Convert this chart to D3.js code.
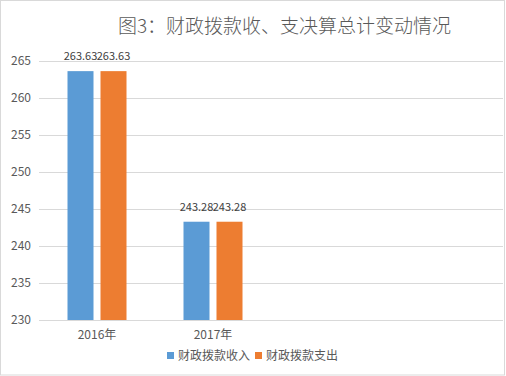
<!DOCTYPE html>
<html>
<head>
<meta charset="utf-8">
<script src="https://cdn.jsdelivr.net/npm/d3@7"></script>
<style>
  body { margin: 0; background: #fff; }
  svg { display: block; }
  text { font-family: "Noto Sans CJK SC", "Noto Sans", sans-serif; fill: #595959; }
</style>
</head>
<body>
<script>
// chart data
const categories = ["2016年", "2017年", "", ""];
const income = [263.63, 243.28, null, null];
const spending = [263.63, 243.28, null, null];
const seriesNames = ["财政拨款收入", "财政拨款支出"];
const colors = ["#5b9bd5", "#ed7d31"];
const yTicks = [230, 235, 240, 245, 250, 255, 260, 265];

const width = 506, height = 376;
const margin = {top: 61, right: 3, bottom: 56, left: 39};

const svg = d3.select("body").append("svg")
    .attr("width", width)
    .attr("height", height);

// outer frame
svg.append("rect")
    .attr("x", 0.5).attr("y", 0.5)
    .attr("width", width - 2).attr("height", height - 1.5)
    .attr("fill", "none")
    .attr("stroke", "#d9d9d9");

svg.append("text")
    .attr("x", 284.5).attr("y", 33)
    .attr("text-anchor", "middle")
    .style("font-size", "19px")
    .style("font-weight", 300)
    .text("图3：财政拨款收、支决算总计变动情况");

const x = d3.scaleBand()
    .domain(categories.map((c, i) => i))
    .range([margin.left, width - margin.right]);

const y = d3.scaleLinear()
    .domain([230, 265])
    .range([height - margin.bottom, margin.top]);

// gridlines
svg.append("g")
    .selectAll("line")
    .data(yTicks)
    .enter().append("line")
    .attr("x1", margin.left)
    .attr("x2", width - margin.right)
    .attr("y1", d => Math.round(y(d)) + 0.5)
    .attr("y2", d => Math.round(y(d)) + 0.5)
    .attr("stroke", "#d9d9d9");

svg.append("g")
    .selectAll("text")
    .data(yTicks)
    .enter().append("text")
    .attr("x", 31)
    .attr("y", d => y(d) + 4)
    .attr("text-anchor", "end")
    .style("font-size", "12px")
    .text(d => d);

const series = [income, spending];
const barW = 26, gap = 7;

series.forEach((vals, s) => {
    const pts = vals.map((v, i) => ({v, i})).filter(d => d.v != null);
    const bx = d => x(d.i) + x.bandwidth() / 2 - (barW * 2 + gap) / 2 + s * (barW + gap);

    svg.append("g")
        .selectAll("rect")
        .data(pts)
        .enter().append("rect")
        .attr("x", bx)
        .attr("y", d => y(d.v))
        .attr("width", barW)
        .attr("height", d => y(230) - y(d.v))
        .attr("fill", colors[s]);

    svg.append("g")
        .selectAll("text")
        .data(pts)
        .enter().append("text")
        .attr("x", d => bx(d) + barW / 2)
        .attr("y", d => y(d.v) - 11)
        .attr("text-anchor", "middle")
        .style("font-size", "11px")
        .style("fill", "#404040")
        .text(d => d.v.toFixed(2));
});

// category labels
svg.append("g")
    .selectAll("text")
    .data(categories)
    .enter().append("text")
    .attr("x", (d, i) => x(i) + x.bandwidth() / 2)
    .attr("y", height - margin.bottom + 19)
    .attr("text-anchor", "middle")
    .style("font-size", "12px")
    .text(d => d);

// legend
const legend = svg.append("g");
const legendX = [167, 255];
seriesNames.forEach((name, i) => {
    legend.append("rect")
        .attr("x", legendX[i]).attr("y", 352)
        .attr("width", 7).attr("height", 7)
        .attr("fill", colors[i]);
    legend.append("text")
        .attr("x", legendX[i] + 11).attr("y", 360)
        .style("font-size", "12px")
        .text(name);
});
</script>
</body>
</html>
